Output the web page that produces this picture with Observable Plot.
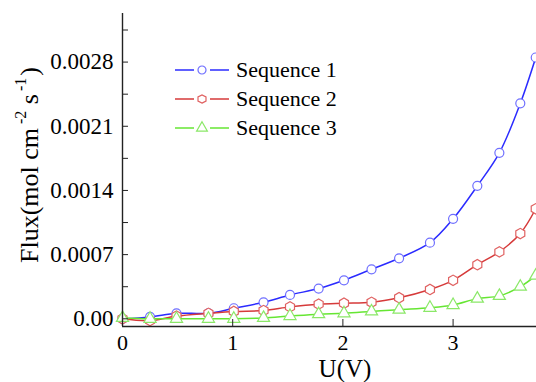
<!DOCTYPE html>
<html><head><meta charset="utf-8">
<script src="https://cdn.jsdelivr.net/npm/d3@7"></script>
<script src="https://cdn.jsdelivr.net/npm/@observablehq/plot@0.6"></script>
<style>
body{margin:0;background:#fff}
svg{display:block}
#chart svg text, #chart svg tspan{font-family:"Liberation Serif",serif !important;font-variant:normal !important}
</style>
</head><body><div id="chart"></div><script>
// ---- data ----
const U = [0, 0.25, 0.49, 0.78, 1.01, 1.28, 1.52, 1.78, 2.01, 2.26, 2.51, 2.79, 3.0, 3.22, 3.42, 3.61, 3.75];
const seq1 = [0.00000, 0.00002, 0.00006, 0.00006, 0.000115, 0.00018, 0.00026, 0.00033, 0.00042, 0.00054, 0.00066, 0.00083, 0.00109, 0.00145, 0.00181, 0.00235, 0.00285];
const seq2 = [0.00000, -0.00002, 0.00003, 0.00006, 0.00008, 0.00009, 0.00013, 0.00016, 0.00017, 0.00018, 0.00023, 0.00032, 0.00042, 0.00059, 0.00073, 0.00093, 0.00120];
const seq3 = [0.00001, 0.00000, 0.00000, 0.00000, 0.00000, 0.00001, 0.00003, 0.00005, 0.00006, 0.00008, 0.00010, 0.00012, 0.00015, 0.00022, 0.00025, 0.00035, 0.00047];
const seriesNames = ["Sequence 1", "Sequence 2", "Sequence 3"];
const yMajor = [0, 0.0007, 0.0014, 0.0021, 0.0028];
const yMinor = [0.00035, 0.00105, 0.00175, 0.00245, 0.00315];
const xMajor = [0, 1, 2, 3];
const xDomain = [0, 3.757];
const yDomain = [-0.000084, 0.00333];

// ---- styling ----
const W = 536, H = 382, mL = 122, mR = 0, mT = 13, mB = 56;
const lineColors = ["#2b2bff", "#d63a3a", "#66e633"];
const markColors = ["#6f6fff", "#e06262", "#8be868"];
const symbols = ["circle", "hexagon", "triangle"];
const values = [seq1, seq2, seq3];
const serif = "Liberation Serif";

const seriesMarks = values.flatMap((vals, i) => {
  const rows = U.map((u, j) => ({u, f: vals[j]}));
  return [
    Plot.line(rows, {x: "u", y: "f", stroke: lineColors[i], strokeWidth: 1.5, curve: "catmull-rom"}),
    Plot.dot(rows, {x: "u", y: "f", symbol: symbols[i], r: 4.5, stroke: markColors[i], strokeWidth: 1.2, fill: "white"})
  ];
});

const plot = Plot.plot({
  width: W, height: H,
  marginLeft: mL, marginRight: mR, marginTop: mT, marginBottom: mB,
  style: {fontFamily: serif, fontSize: "22px", color: "#000", background: "#fff"},
  x: {domain: xDomain},
  y: {domain: yDomain},
  marks: [
    ...seriesMarks,
    Plot.axisY(yMajor, {tickSize: 0, tickPadding: 9, tickFormat: d => d === 0 ? "0.00" : d.toFixed(4), label: null, fontSize: 23, fontFamily: serif, fontVariant: "normal", fill: "#000"}),
    Plot.axisX(xMajor, {tickSize: 0, tickPadding: 8, tickFormat: d => String(d), label: null, fontSize: 22, fontFamily: serif, fontVariant: "normal", fill: "#000"}),
    Plot.tickY(yMajor, {y: d => d, insetRight: W - mL - mR - 6, stroke: "#222"}),
    Plot.tickY(yMinor, {y: d => d, insetRight: W - mL - mR - 6, stroke: "#222"}),
    Plot.tickX(xMajor, {x: d => d, insetTop: H - mT - mB - 7, stroke: "#222"}),
    Plot.ruleX([xDomain[0]], {stroke: "#222", strokeWidth: 1.4}),
    Plot.ruleY([yDomain[0]], {stroke: "#222", strokeWidth: 1.4})
  ]
});

const svg = d3.select(plot).attr("font-family", serif);

// y-axis title with superscripts
const yt = svg.append("text")
  .attr("transform", "translate(38,165) rotate(-90)")
  .attr("text-anchor", "middle")
  .attr("font-family", serif).attr("font-size", 26).attr("fill", "#000");
yt.append("tspan").text("Flux(mol cm");
yt.append("tspan").attr("dy", -12).attr("dx", 4).attr("font-size", 16).text("-2");
yt.append("tspan").attr("dy", 12).text(" s");
yt.append("tspan").attr("dy", -12).attr("dx", 3).attr("font-size", 16).text("-1");
yt.append("tspan").attr("dy", 12).attr("dx", 2).text(")");

// x-axis title
svg.append("text").attr("x", 345).attr("y", 377).attr("text-anchor", "middle")
  .attr("font-family", serif).attr("font-size", 25).attr("fill", "#000").text("U(V)");

// legend
const hexagon = {
  draw(ctx, size) {
    const rx = Math.sqrt(size / Math.PI), ry = rx * 2 / Math.sqrt(3) * 0.9, hy = ry / 2;
    ctx.moveTo(0, ry); ctx.lineTo(rx, hy); ctx.lineTo(rx, -hy);
    ctx.lineTo(0, -ry); ctx.lineTo(-rx, -hy); ctx.lineTo(-rx, hy); ctx.closePath();
  }
};
const symTypes = [d3.symbolCircle, hexagon, d3.symbolTriangle];
const lg = svg.append("g");
seriesNames.forEach((name, i) => {
  const cy = 70 + i * 29;
  lg.append("line").attr("x1", 175).attr("x2", 194).attr("y1", cy).attr("y2", cy).attr("stroke", lineColors[i]).attr("stroke-width", 1.5);
  lg.append("line").attr("x1", 210).attr("x2", 229).attr("y1", cy).attr("y2", cy).attr("stroke", lineColors[i]).attr("stroke-width", 1.5);
  lg.append("path").attr("transform", `translate(202,${cy})`)
    .attr("d", d3.symbol().type(symTypes[i]).size(Math.PI * 4 * 4)())
    .attr("fill", "white").attr("stroke", markColors[i]).attr("stroke-width", 1.2);
  lg.append("text").attr("x", 236).attr("y", cy).attr("dy", "0.34em").attr("text-anchor", "start")
    .attr("font-family", serif).attr("font-size", 22).attr("fill", "#000").text(name);
});

document.getElementById("chart").appendChild(plot);
</script></body></html>
